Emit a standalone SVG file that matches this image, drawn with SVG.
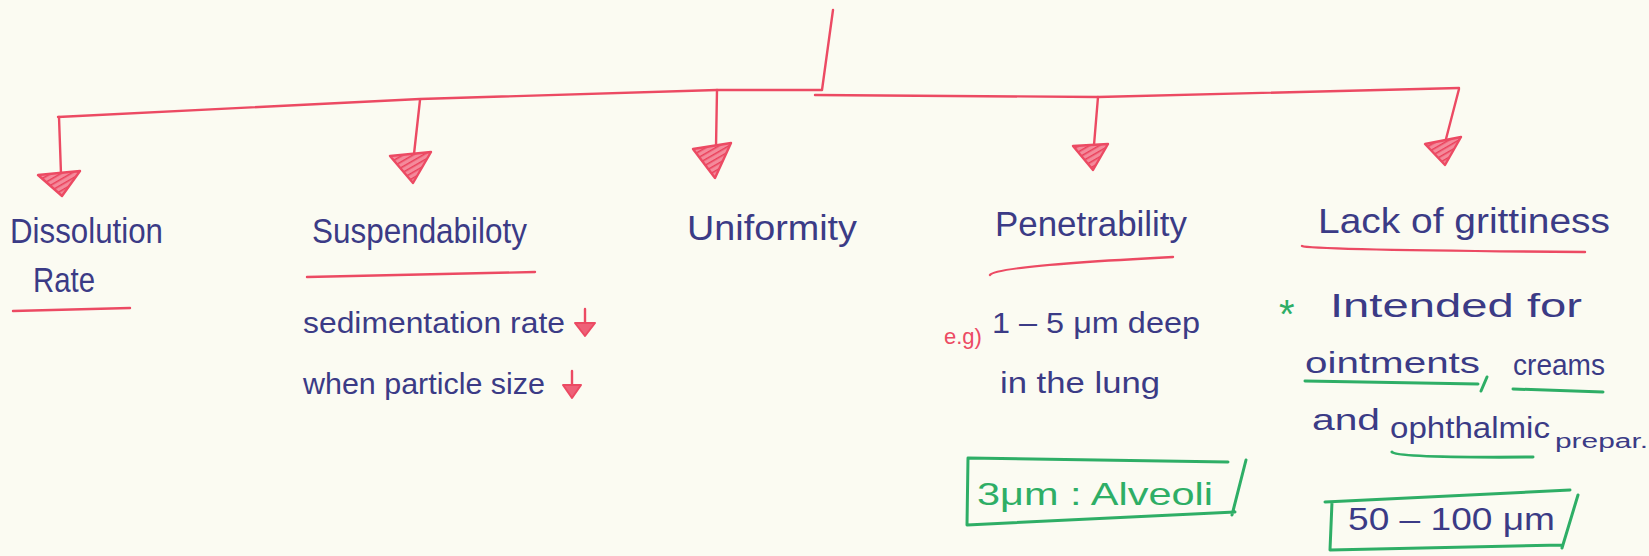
<svg xmlns="http://www.w3.org/2000/svg" width="1649" height="556" viewBox="0 0 1649 556">
<style>
.bg{fill:#fbfbf2}
.ln{fill:none;stroke:#ec4a63;stroke-width:2.4;stroke-linecap:round;stroke-linejoin:round}
.ah{fill:url(#hatch);stroke:#ec4a63;stroke-width:2.4;stroke-linejoin:round}
.sa{fill:#ee6178;stroke:#ec4a63;stroke-width:2;stroke-linejoin:round}
.ul{fill:none;stroke:#ec4a63;stroke-width:2.4;stroke-linecap:round}
.gl{fill:none;stroke:#2eae66;stroke-width:3;stroke-linecap:round}
.t{font-family:"Liberation Sans",Arial,sans-serif;fill:#3b3b86}
.h{font-size:35px}
.s{font-size:29px}
.g{font-family:"Liberation Sans",Arial,sans-serif;fill:#2eae66}
.r{font-family:"Liberation Sans",Arial,sans-serif;fill:#ec4a63}
</style>
<defs>
<pattern id="hatch" width="5" height="5" patternUnits="userSpaceOnUse" patternTransform="rotate(60)">
<rect width="5" height="5" fill="#f48a9b"/>
<line x1="0" y1="0" x2="0" y2="5" stroke="#ea3f5a" stroke-width="3"/>
</pattern>
</defs>
<rect class="bg" x="0" y="0" width="1649" height="556"/>
<g id="connectors">
<path class="ln" d="M833,10 L822,90 L717,90 L420,99 L58,117"/>
<path class="ln" d="M815,95 L1098,97 L1459,88"/>
<path class="ln" d="M59,117 L61,174"/>
<polygon class="ah" points="38,175 80,171 62,196"/>
<path class="ln" d="M420,100 L414,154"/>
<polygon class="ah" points="390,156 431,152 413,183"/>
<path class="ln" d="M717,90 L716,147"/>
<polygon class="ah" points="693,149 731,143 715,178"/>
<path class="ln" d="M1098,97 L1094,145"/>
<polygon class="ah" points="1073,146 1108,144 1093,170"/>
<path class="ln" d="M1459,89 L1446,139"/>
<polygon class="ah" points="1425,144 1461,137 1445,165"/>
</g>
<g id="node-dissolution">
<text class="t h" x="10" y="243" textLength="153" lengthAdjust="spacingAndGlyphs">Dissolution</text>
<text class="t h" x="33" y="292" textLength="62" lengthAdjust="spacingAndGlyphs">Rate</text>
<path class="ul" d="M13,311 L130,308"/>
</g>
<g id="node-suspendability">
<text class="t h" x="312" y="243" textLength="215" lengthAdjust="spacingAndGlyphs">Suspendabiloty</text>
<path class="ul" d="M307,277 L535,272"/>
<text class="t s" x="303" y="333" textLength="262" lengthAdjust="spacingAndGlyphs">sedimentation rate</text>
<path class="ul" d="M585,309 L585,330"/>
<polygon class="sa" points="575,323 595,323 585,336"/>
<text class="t s" x="303" y="394" textLength="242" lengthAdjust="spacingAndGlyphs">when particle size</text>
<path class="ul" d="M572,371 L572,390"/>
<polygon class="sa" points="563,385 581,385 572,398"/>
</g>
<g id="node-uniformity">
<text class="t h" x="687" y="240" textLength="170" lengthAdjust="spacingAndGlyphs">Uniformity</text>
</g>
<g id="node-penetrability">
<text class="t h" x="995" y="236" textLength="192" lengthAdjust="spacingAndGlyphs">Penetrability</text>
<path class="ul" d="M990,275 Q995,266 1173,257"/>
<text class="r" x="944" y="344" font-size="22">e.g)</text>
<text class="t s" x="992" y="333" textLength="208" lengthAdjust="spacingAndGlyphs">1 – 5 μm deep</text>
<text class="t s" x="1000" y="393" textLength="160" lengthAdjust="spacingAndGlyphs">in the lung</text>
<path class="gl" d="M968,458 L1228,462 M1246,460 L1232,515 M967,525 L1235,512 M968,458 L967,525"/>
<text class="g" x="977" y="505" font-size="32" textLength="236" lengthAdjust="spacingAndGlyphs">3μm : Alveoli</text>
</g>
<g id="node-grittiness">
<text class="t h" x="1318" y="233" textLength="292" lengthAdjust="spacingAndGlyphs">Lack of grittiness</text>
<path class="ul" d="M1302,246 Q1310,250 1585,252"/>
<text class="g" x="1279" y="328" font-size="40">*</text>
<text class="t" x="1330" y="317" font-size="33" textLength="252" lengthAdjust="spacingAndGlyphs">Intended for</text>
<text class="t s" x="1305" y="373" textLength="175" lengthAdjust="spacingAndGlyphs">ointments</text>
<path class="gl" d="M1487,377 L1481,391"/>
<text class="t s" x="1513" y="375" textLength="92" lengthAdjust="spacingAndGlyphs">creams</text>
<path class="gl" d="M1305,381 L1478,384 M1513,389 L1603,392"/>
<text class="t s" x="1312" y="430" textLength="68" lengthAdjust="spacingAndGlyphs">and</text>
<text class="t s" x="1390" y="438" textLength="160" lengthAdjust="spacingAndGlyphs">ophthalmic</text>
<text class="t" x="1555" y="448" font-size="20" textLength="93" lengthAdjust="spacingAndGlyphs">prepar.</text>
<path class="gl" d="M1392,452 Q1396,458 1533,457"/>
<path class="gl" d="M1325,502 L1570,490 M1578,495 L1562,548 M1330,550 L1562,545 M1332,502 L1330,550"/>
<text class="t" x="1348" y="530" font-size="32" textLength="207" lengthAdjust="spacingAndGlyphs">50 – 100 μm</text>
</g>
</svg>
